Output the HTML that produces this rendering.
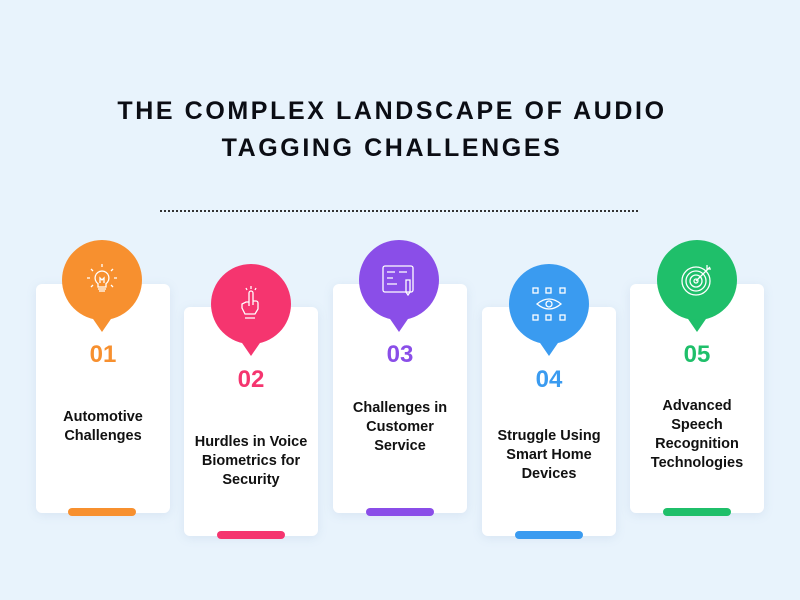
<!DOCTYPE html>
<html><head><meta charset="utf-8"><style>
*{margin:0;padding:0;box-sizing:border-box}
body{width:800px;height:600px;background:#e8f3fc;font-family:"Liberation Sans",sans-serif;position:relative;overflow:hidden}
.title{position:absolute;left:-8px;width:800px;top:93px;text-align:center;font-weight:bold;font-size:25px;letter-spacing:2.6px;line-height:37px;color:#0b0d14}
.dots{position:absolute;left:160px;top:210px;width:478px;border-top:2px dotted #333}
.card{position:absolute;width:134px;height:229px;background:#fff;border-radius:6px;box-shadow:0 2px 10px rgba(120,150,190,.15)}
.pin{position:absolute;width:80px;height:80px;border-radius:50%}
.tail{position:absolute;width:0;height:0;border-left:11px solid transparent;border-right:11px solid transparent;border-top:16px solid}
.num{position:absolute;width:134px;text-align:center;font-weight:bold;font-size:24px;font-family:"Liberation Sans Narrow","Liberation Sans",sans-serif}
.txt{position:absolute;width:134px;text-align:center;font-weight:bold;font-size:14.5px;line-height:19px;color:#111}
.bar{position:absolute;width:68px;height:8px;border-radius:4px}
svg{position:absolute}
</style></head><body>
<div class="title">THE COMPLEX LANDSCAPE OF AUDIO<br>TAGGING CHALLENGES</div>
<div class="dots"></div>

<!-- 1 -->
<div class="card" style="left:36px;top:284px"></div>
<div class="tail" style="left:91px;top:316px;border-top-color:#f7902f"></div>
<div class="pin" style="left:62px;top:240px;background:#f7902f"></div>
<svg style="left:82px;top:260px" width="40" height="40" viewBox="0 0 40 40" fill="none" stroke="#fff" stroke-width="1.3"><path d="M20 11a7 7 0 0 0-4 12.7V27h8v-3.3A7 7 0 0 0 20 11z"/><path d="M16 29h8M17 31h6M18 23v-5l2 2 2-2v5"/><path d="M20 4v3M9 9l2 2M31 9l-2 2M5 18h3M32 18h3M9 27l2-2M31 27l-2-2"/></svg>
<div class="num" style="left:36px;top:341px;color:#f7902f">01</div>
<div class="txt" style="left:36px;top:408px">Automotive<br>Challenges</div>
<div class="bar" style="left:68px;top:508px;background:#f7902f"></div>

<!-- 2 -->
<div class="card" style="left:184px;top:307px"></div>
<div class="tail" style="left:240px;top:340px;border-top-color:#f5356f"></div>
<div class="pin" style="left:211px;top:264px;background:#f5356f"></div>
<svg style="left:231px;top:284px" width="40" height="40" viewBox="0 0 40 40" fill="none" stroke="#fff" stroke-width="1.3"><path d="M18 22V9a2 2 0 0 1 4 0v12"/><path d="M22 17h3a2 2 0 0 1 2 2v6l-3 5H14l-3-6v-4l4-2h3"/><path d="M14 34h10M20 2v3M15 4l1 2M25 4l-1 2"/></svg>
<div class="num" style="left:184px;top:366px;color:#f5356f">02</div>
<div class="txt" style="left:184px;top:433px">Hurdles in Voice<br>Biometrics for<br>Security</div>
<div class="bar" style="left:217px;top:531px;background:#f5356f"></div>

<!-- 3 -->
<div class="card" style="left:333px;top:284px"></div>
<div class="tail" style="left:388px;top:316px;border-top-color:#8a4ee8"></div>
<div class="pin" style="left:359px;top:240px;background:#8a4ee8"></div>
<svg style="left:379px;top:260px" width="40" height="40" viewBox="0 0 40 40" fill="none" stroke="#fff" stroke-width="1.3"><rect x="4" y="6" width="30" height="26" rx="2"/><path d="M8 12h8M8 18h6M20 12h8M8 24h10"/><path d="M27 20v12l2 3 2-3V20z"/></svg>
<div class="num" style="left:333px;top:341px;color:#8a4ee8">03</div>
<div class="txt" style="left:333px;top:399px">Challenges in<br>Customer<br>Service</div>
<div class="bar" style="left:366px;top:508px;background:#8a4ee8"></div>

<!-- 4 -->
<div class="card" style="left:482px;top:307px"></div>
<div class="tail" style="left:538px;top:340px;border-top-color:#3a9bf0"></div>
<div class="pin" style="left:509px;top:264px;background:#3a9bf0"></div>
<svg style="left:529px;top:284px" width="40" height="40" viewBox="0 0 40 40" fill="none" stroke="#fff" stroke-width="1.3"><rect x="4" y="4" width="5" height="5"/><rect x="31" y="4" width="5" height="5"/><rect x="4" y="31" width="5" height="5"/><rect x="31" y="31" width="5" height="5"/><rect x="17" y="4" width="5" height="5"/><rect x="17" y="31" width="5" height="5"/><path d="M8 20q12-10 24 0q-12 10-24 0z"/><circle cx="20" cy="20" r="3"/></svg>
<div class="num" style="left:482px;top:366px;color:#3a9bf0">04</div>
<div class="txt" style="left:482px;top:427px">Struggle Using<br>Smart Home<br>Devices</div>
<div class="bar" style="left:515px;top:531px;background:#3a9bf0"></div>

<!-- 5 -->
<div class="card" style="left:630px;top:284px"></div>
<div class="tail" style="left:686px;top:316px;border-top-color:#1fbf6a"></div>
<div class="pin" style="left:657px;top:240px;background:#1fbf6a"></div>
<svg style="left:677px;top:260px" width="40" height="40" viewBox="0 0 40 40" fill="none" stroke="#fff" stroke-width="1.3"><circle cx="19" cy="21" r="14"/><circle cx="19" cy="21" r="10"/><circle cx="19" cy="21" r="6"/><circle cx="19" cy="21" r="2"/><path d="M19 21L33 7M30 5v4h4"/></svg>
<div class="num" style="left:630px;top:341px;color:#1fbf6a">05</div>
<div class="txt" style="left:630px;top:397px">Advanced<br>Speech<br>Recognition<br>Technologies</div>
<div class="bar" style="left:663px;top:508px;background:#1fbf6a"></div>
</body></html>
